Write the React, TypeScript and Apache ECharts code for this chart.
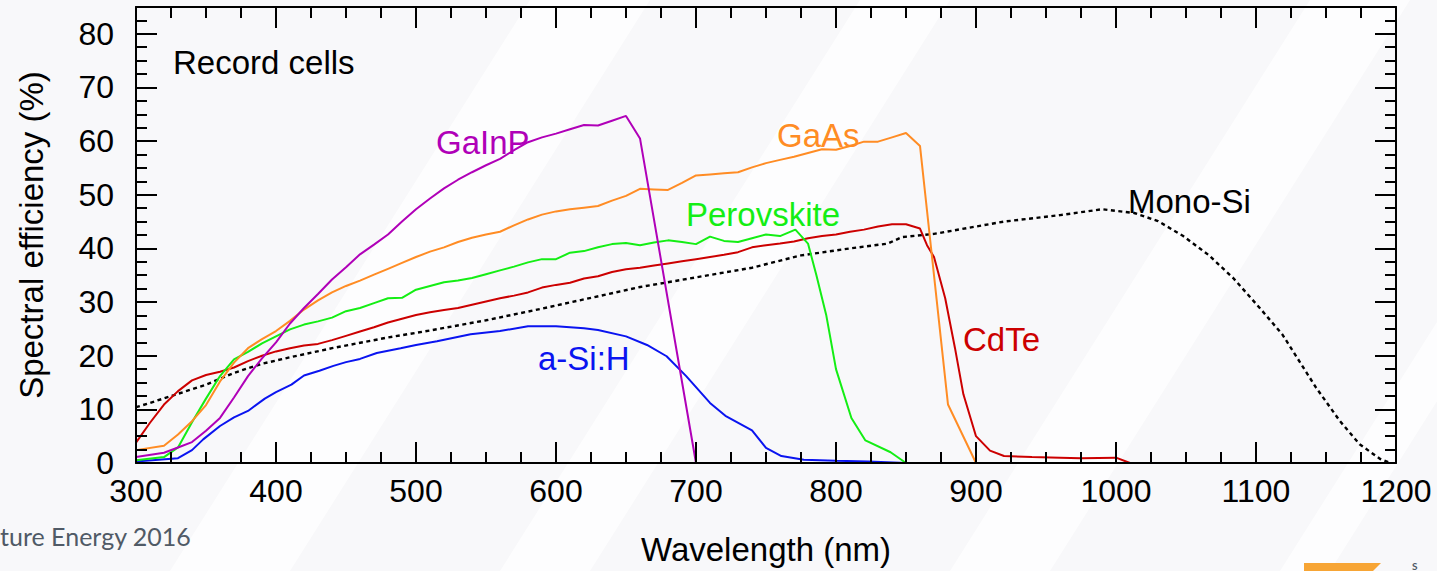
import { useEffect, useRef } from "react";
import * as echarts from "echarts";

// Spectral efficiency (%) of record solar cells versus wavelength (nm)
const gainpNm = [300, 320, 330, 340, 350, 360, 370, 380, 390, 400, 410, 420, 430, 440, 450, 460, 470, 480, 490, 500, 510, 520, 530, 540, 550, 560, 570, 580, 590, 600, 610, 620, 630, 640, 650, 660, 700, 1200];
const gainpEff = [1.1, 1.9, 2.9, 3.9, 6.0, 8.4, 12.2, 16.2, 19.5, 22.5, 26.0, 28.9, 31.5, 34.2, 36.5, 38.9, 40.7, 42.6, 45.0, 47.3, 49.3, 51.2, 52.8, 54.2, 55.5, 56.7, 58.3, 59.8, 60.7, 61.4, 62.2, 63.0, 62.9, 63.8, 64.7, 60.5, 0, 0];

const gaasNm = [300, 320, 330, 340, 350, 360, 370, 380, 390, 400, 410, 420, 430, 440, 450, 460, 470, 480, 490, 500, 510, 520, 530, 540, 550, 560, 570, 580, 590, 600, 610, 620, 630, 640, 650, 660, 670, 680, 690, 700, 710, 720, 730, 740, 750, 760, 770, 780, 790, 800, 810, 820, 830, 840, 850, 860, 880, 900, 1200];
const gaasEff = [2.4, 3.2, 5.3, 7.8, 10.8, 15.2, 18.7, 21.4, 23.1, 24.6, 26.5, 28.6, 30.3, 31.8, 33.0, 34.0, 35.1, 36.2, 37.3, 38.4, 39.4, 40.2, 41.2, 42.0, 42.6, 43.1, 44.3, 45.4, 46.3, 46.9, 47.3, 47.6, 47.9, 48.9, 49.8, 51.1, 51.0, 50.9, 52.2, 53.6, 53.8, 54.0, 54.2, 55.1, 55.9, 56.5, 57.1, 57.8, 58.5, 58.4, 59.1, 59.9, 59.9, 60.7, 61.5, 59.1, 10.9, 0, 0];

const perovskiteNm = [300, 320, 330, 340, 350, 360, 370, 380, 390, 400, 410, 420, 430, 440, 450, 460, 470, 480, 490, 500, 510, 520, 530, 540, 550, 560, 570, 580, 590, 600, 610, 620, 630, 640, 650, 660, 670, 680, 690, 700, 710, 720, 730, 740, 750, 760, 771, 780, 786, 793, 800, 811, 821, 839, 850, 1200];
const perovskiteEff = [0.5, 1.1, 2.9, 7.6, 12.0, 16.2, 19.3, 20.7, 22.3, 23.6, 24.9, 25.8, 26.4, 27.1, 28.3, 28.9, 29.8, 30.7, 30.8, 32.3, 33.0, 33.7, 34.0, 34.5, 35.2, 35.9, 36.6, 37.4, 38.0, 38.0, 39.2, 39.5, 40.2, 40.8, 41.0, 40.6, 41.1, 41.5, 41.2, 40.8, 42.2, 41.4, 41.2, 41.9, 42.6, 42.3, 43.5, 40.9, 35.0, 27.6, 17.5, 8.4, 4.2, 2.0, 0, 0];

const cdteNm = [300, 310, 320, 330, 340, 350, 360, 370, 380, 390, 400, 410, 420, 430, 440, 450, 460, 470, 480, 490, 500, 510, 520, 530, 540, 550, 560, 570, 580, 590, 600, 610, 620, 630, 640, 650, 660, 670, 680, 690, 700, 710, 720, 730, 740, 750, 760, 770, 780, 790, 800, 810, 820, 830, 840, 850, 860, 865, 870, 878, 885, 891, 900, 910, 920, 940, 960, 975, 1000, 1010, 1200];
const cdteEff = [3.8, 7.5, 10.9, 13.4, 15.4, 16.4, 17.0, 17.8, 19.0, 20.0, 20.8, 21.4, 21.9, 22.2, 22.9, 23.7, 24.5, 25.3, 26.2, 26.9, 27.6, 28.1, 28.5, 28.9, 29.5, 30.1, 30.7, 31.2, 31.8, 32.7, 33.2, 33.6, 34.4, 34.8, 35.6, 36.1, 36.4, 36.8, 37.2, 37.6, 38.0, 38.4, 38.8, 39.3, 40.2, 40.6, 40.9, 41.3, 41.9, 42.3, 42.6, 43.1, 43.5, 44.1, 44.5, 44.5, 43.7, 40.6, 38.4, 30.7, 21.4, 12.8, 5.0, 2.3, 1.3, 1.1, 1.0, 0.9, 1.0, 0, 0];

const asiNm = [300, 330, 340, 348, 360, 370, 380, 392, 400, 411, 420, 431, 441, 450, 460, 472, 489, 500, 515, 539, 560, 580, 600, 620, 630, 650, 665, 679, 693, 710, 721, 740, 750, 761, 777, 800, 823, 850, 1200];
const asiEff = [0.3, 0.9, 2.4, 4.4, 6.9, 8.5, 9.7, 12.0, 13.2, 14.6, 16.3, 17.2, 18.1, 18.8, 19.4, 20.5, 21.4, 22.0, 22.7, 24.0, 24.6, 25.5, 25.5, 25.1, 24.8, 23.6, 22.0, 19.9, 16.2, 11.2, 8.8, 6.1, 2.8, 1.3, 0.6, 0.4, 0.3, 0, 0];

const monoSiNm = [300, 310, 330, 350, 370, 390, 410, 440, 480, 510, 550, 585, 620, 660, 700, 740, 775, 810, 837, 847, 870, 920, 960, 990, 1013, 1030, 1048, 1066, 1084, 1103, 1119, 1143, 1160, 1174, 1189, 1196];
const monoSiEff = [10.4, 11.2, 12.9, 14.6, 16.8, 18.5, 19.7, 21.4, 23.4, 24.7, 26.6, 28.5, 30.5, 32.8, 34.6, 36.4, 38.7, 40.0, 40.9, 42.1, 42.7, 45.0, 46.2, 47.3, 46.6, 45.1, 42.3, 38.8, 34.4, 28.8, 23.9, 14.0, 7.8, 3.5, 0.7, 0];

const xMin = 300;
const xMax = 1200;
const yMin = 0;
const yMax = 85;

const FONT = '"Liberation Sans", Arial, Helvetica, sans-serif';
const FOOT_FONT = 'Lato, "Open Sans", sans-serif';

const zip = (xs: number[], ys: number[]) => xs.map((x, i) => [x, ys[i]]);

type Side = "bottom" | "top" | "left" | "right";

function axisDef(side: Side, interval: number, tickLen: number, major: boolean, extra: any = {}) {
  const isX = side === "bottom" || side === "top";
  const labelled = major && (side === "bottom" || side === "left");
  return {
    type: "value",
    position: side,
    min: isX ? xMin : yMin,
    max: isX ? xMax : yMax,
    interval,
    z: 5,
    axisLine: { show: major, onZero: false, lineStyle: { color: "#000", width: 2 } },
    axisTick: { show: true, inside: true, length: tickLen, lineStyle: { color: "#000", width: 2 } },
    axisLabel: {
      show: labelled,
      color: "#000",
      fontSize: 32,
      fontFamily: FONT,
      margin: isX ? 12 : 22,
      showMaxLabel: isX,
      formatter: (v: number) => String(v),
    },
    splitLine: { show: false },
    ...extra,
  };
}

function seriesDef(name: string, xs: number[], ys: number[], color: string, dashed = false) {
  return {
    name,
    type: "line",
    data: zip(xs, ys),
    xAxisIndex: 0,
    yAxisIndex: 0,
    showSymbol: false,
    symbol: "none",
    smooth: false,
    lineStyle: { color, width: dashed ? 2.4 : 2, type: dashed ? [4, 3.5] : "solid", cap: "butt" },
    itemStyle: { color },
  };
}

function label(text: string, x: number, y: number, fill: string) {
  return {
    type: "text",
    x,
    y,
    z: 10,
    style: {
      text,
      fill,
      font: `33px ${FONT}`,
      textAlign: "left",
      textVerticalAlign: "middle",
      align: "left",
      verticalAlign: "middle",
    },
  };
}

// faint diagonal light bands of the slide background
const bandFeet = [
  [170, 290],
  [500, 590],
  [950, 1050],
  [1280, 1330],
];
const bandShift = 360;

export default function App() {
  const ref = useRef<HTMLDivElement>(null);

  useEffect(() => {
    const chart = echarts.init(ref.current!, null, { renderer: "svg" });
    const bands = bandFeet.map(([a, b]) => ({
      type: "polygon",
      z: -10,
      silent: true,
      shape: {
        points: [
          [a, 571],
          [b, 571],
          [b + bandShift, 0],
          [a + bandShift, 0],
        ],
      },
      style: { fill: "#ffffff", opacity: 0.75 },
    }));

    chart.setOption({
      animation: false,
      backgroundColor: "#f8f8fa",
      grid: { left: 136, right: 41, top: 7, bottom: 105.5, containLabel: false },
      xAxis: [
        axisDef("bottom", 100, 21, true, {
          name: "Wavelength (nm)",
          nameLocation: "middle",
          nameGap: 70,
          nameTextStyle: { color: "#000", fontSize: 33, fontFamily: FONT },
        }),
        axisDef("bottom", 25, 11, false),
        axisDef("top", 100, 21, true),
        axisDef("top", 25, 11, false),
      ],
      yAxis: [
        axisDef("left", 10, 21, true, {
          name: "Spectral efficiency (%)",
          nameLocation: "middle",
          nameRotate: 90,
          nameGap: 88,
          nameTextStyle: { color: "#000", fontSize: 33, fontFamily: FONT },
        }),
        axisDef("left", 2.5, 11, false),
        axisDef("right", 10, 21, true),
        axisDef("right", 2.5, 11, false),
      ],
      series: [
        seriesDef("Mono-Si", monoSiNm, monoSiEff, "#000000", true),
        seriesDef("a-Si:H", asiNm, asiEff, "#0a14f0"),
        seriesDef("CdTe", cdteNm, cdteEff, "#cc0000"),
        seriesDef("Perovskite", perovskiteNm, perovskiteEff, "#14ee14"),
        seriesDef("GaAs", gaasNm, gaasEff, "#ff8c24"),
        seriesDef("GaInP", gainpNm, gainpEff, "#b000b8"),
      ],
      graphic: [
        ...bands,
        label("Record cells", 173, 62, "#000000"),
        label("GaInP", 436, 142, "#b000b8"),
        label("GaAs", 777, 135, "#ff8c24"),
        label("Perovskite", 686, 214, "#14ee14"),
        label("Mono-Si", 1128, 201, "#000000"),
        label("CdTe", 963, 339, "#cc0000"),
        label("a-Si:H", 538, 358, "#0a14f0"),
        {
          type: "text",
          x: 0,
          y: 536,
          z: 10,
          style: {
            text: "ture Energy 2016",
            fill: "#505a66",
            font: `25px ${FOOT_FONT}`,
            textAlign: "left",
            textVerticalAlign: "middle",
            align: "left",
            verticalAlign: "middle",
          },
        },
        {
          type: "polygon",
          z: 10,
          shape: { points: [[1304, 563], [1381, 563], [1373, 571], [1304, 571]] },
          style: { fill: "#f7a535" },
        },
        {
          type: "text",
          x: 1412,
          y: 561,
          z: 10,
          style: {
            text: "S",
            fill: "#4f5a66",
            font: `bold 10px ${FOOT_FONT}`,
            textAlign: "left",
            textVerticalAlign: "top",
            align: "left",
            verticalAlign: "top",
          },
        },
      ],
    });
    return () => chart.dispose();
  }, []);

  return (
    <div
      ref={ref}
      style={{ position: "fixed", left: 0, top: 0, width: 1437, height: 571 }}
    />
  );
}
